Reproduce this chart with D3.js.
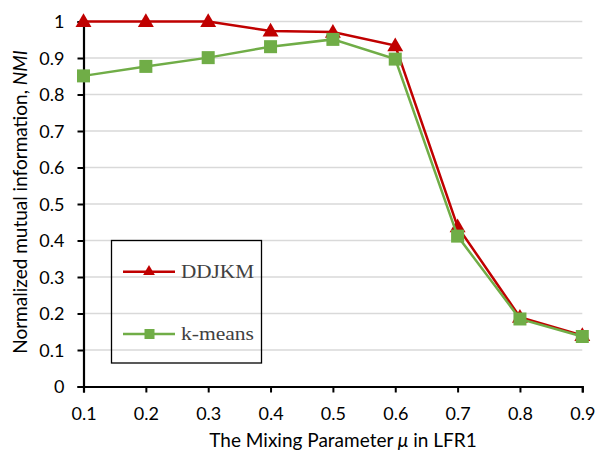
<!DOCTYPE html>
<meta charset="utf-8">
<style>
body { margin: 0; background: #fff; }
.tick text { font-family: Lato, "Open Sans", sans-serif; font-size: 18px; fill: #000; }
.grid line { stroke: #d9d9d9; stroke-width: 1.3px; }
</style>
<svg width="596" height="452"></svg>
<script src="https://d3js.org/d3.v7.min.js"></script>
<script>

// mixing parameter mu
var mu = [0.1, 0.2, 0.3, 0.4, 0.5, 0.6, 0.7, 0.8, 0.9];
// NMI values per method
var ddjkm = [1.0, 1.0, 1.0, 0.974, 0.971, 0.934, 0.438, 0.19, 0.14];
var kmeans = [0.851, 0.877, 0.901, 0.931, 0.951, 0.897, 0.412, 0.185, 0.137];
var yTicks = [0, 0.1, 0.2, 0.3, 0.4, 0.5, 0.6, 0.7, 0.8, 0.9, 1];
var seriesNames = ["DDJKM", "k-means"];

var svg = d3.select("svg");
var x = d3.scaleLinear().domain([0.1, 0.9]).range([83.5, 582.3]);
var y = d3.scaleLinear().domain([0, 1]).range([386.5, 21.5]);

// gridlines
svg.append("g").attr("class", "grid")
  .selectAll("line").data(yTicks.slice(1)).enter().append("line")
  .attr("x1", x(0.1)).attr("x2", x(0.9))
  .attr("y1", function(d) { return y(d); })
  .attr("y2", function(d) { return y(d); });

// axes
var yAxis = d3.axisLeft(y).tickValues(yTicks).tickSize(6).tickPadding(13)
  .tickFormat(function(d) { return d === 1 || d === 0 ? d3.format("d")(d) : d3.format(".1f")(d); });
var gy = svg.append("g").attr("transform", "translate(" + x(0.1) + ",0)").call(yAxis);
gy.selectAll("text").attr("dy", "0.36em");

var xAxis = d3.axisBottom(x).tickValues(mu).tickSize(6).tickPadding(15).tickFormat(d3.format(".1f"));
var gx = svg.append("g").attr("transform", "translate(0," + y(0) + ")").call(xAxis);

[gx, gy].forEach(function(g) {
  g.select(".domain").attr("stroke", "#000").attr("stroke-width", 2.2);
  g.selectAll(".tick line").attr("stroke", "#000").attr("stroke-width", 2);
});

// axis titles
svg.append("text")
  .attr("x", 343).attr("y", 447)
  .attr("text-anchor", "middle")
  .style("font-family", "Lato, 'Open Sans', sans-serif").style("font-size", "19px")
  .html("The Mixing Parameter <tspan font-style='italic'>\u03bc</tspan> in LFR1");

svg.append("text")
  .attr("transform", "translate(27,202) rotate(-90)")
  .attr("text-anchor", "middle")
  .style("font-family", "Lato, 'Open Sans', sans-serif").style("font-size", "19px")
  .html("Normalized mutual information, <tspan font-style='italic'>NMI</tspan>");

var line = d3.line()
  .x(function(d, i) { return x(mu[i]); })
  .y(function(d) { return y(d); });

var triangle = d3.symbol().type(d3.symbolTriangle);
var colors = ["#c00000", "#70ad47"];

// DDJKM
svg.append("path").datum(ddjkm)
  .attr("d", line).attr("fill", "none")
  .attr("stroke", colors[0]).attr("stroke-width", 2.5);
svg.append("g").selectAll("path").data(ddjkm).enter().append("path")
  .attr("d", triangle.size(110)())
  .attr("transform", function(d, i) { return "translate(" + x(mu[i]) + "," + (y(d) + 1) + ")"; })
  .attr("fill", colors[0]);

// k-means
svg.append("path").datum(kmeans)
  .attr("d", line).attr("fill", "none")
  .attr("stroke", colors[1]).attr("stroke-width", 2.5);
svg.append("g").selectAll("rect").data(kmeans).enter().append("rect")
  .attr("x", function(d, i) { return x(mu[i]) - 6.5; })
  .attr("y", function(d) { return y(d) - 6.5; })
  .attr("width", 13).attr("height", 13)
  .attr("fill", colors[1]);

// legend
var lg = svg.append("g");
lg.append("rect")
  .attr("x", 111.5).attr("y", 240.5).attr("width", 150).attr("height", 122.5)
  .attr("fill", "none").attr("stroke", "#000").attr("stroke-width", 1.3);

var legendY = [271.7, 334];
var items = lg.selectAll("g.item").data(seriesNames).enter().append("g")
  .attr("transform", function(d, i) { return "translate(0," + legendY[i] + ")"; });
items.append("line")
  .attr("x1", 123).attr("x2", 175)
  .attr("stroke", function(d, i) { return colors[i]; }).attr("stroke-width", 2.5);
items.filter(function(d, i) { return i === 0; }).append("path")
  .attr("d", triangle.size(60)())
  .attr("transform", "translate(149,0)")
  .attr("fill", colors[0]);
items.filter(function(d, i) { return i === 1; }).append("rect")
  .attr("x", 144.5).attr("y", -5).attr("width", 10).attr("height", 10)
  .attr("fill", colors[1]);
items.append("text")
  .attr("x", 181).attr("y", 6)
  .attr("textLength", 73).attr("lengthAdjust", "spacingAndGlyphs")
  .style("font-family", "'Liberation Serif', 'DejaVu Serif', serif")
  .style("font-size", "18px").style("fill", "#404040")
  .text(function(d) { return d; });

</script>
